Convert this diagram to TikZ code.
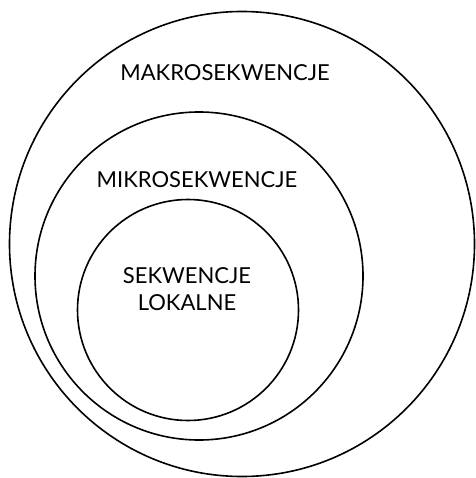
\documentclass[tikz,border=0pt]{standalone}
\usepackage{fontspec}
\setmainfont{Lato}
\usetikzlibrary{positioning}
\tikzset{ring/.style={circle, draw, line width=1.6pt, inner sep=0pt},
         label/.style={font=\fontsize{22}{27}\selectfont, align=center, inner sep=0pt}}

\begin{document}
\begin{tikzpicture}[x=1pt, y=-1pt]
  \useasboundingbox (0,0) rectangle (475,478);
  \node[ring, minimum size=465pt] (makro) at (242,244) {};
  \node[ring, minimum size=328pt] (mikro) at (199,276) {};
  \node[ring, minimum size=221pt] (lokal) at (188,310) {};
  \node[label] (makrotxt) at (225,73) {MAKROSEKWENCJE};
  \node[label] (mikrotxt) at (197,180) {MIKROSEKWENCJE};
  \node[label] (lokaltxt) at (187,289) {SEKWENCJE\\LOKALNE};
\end{tikzpicture}
\end{document}
